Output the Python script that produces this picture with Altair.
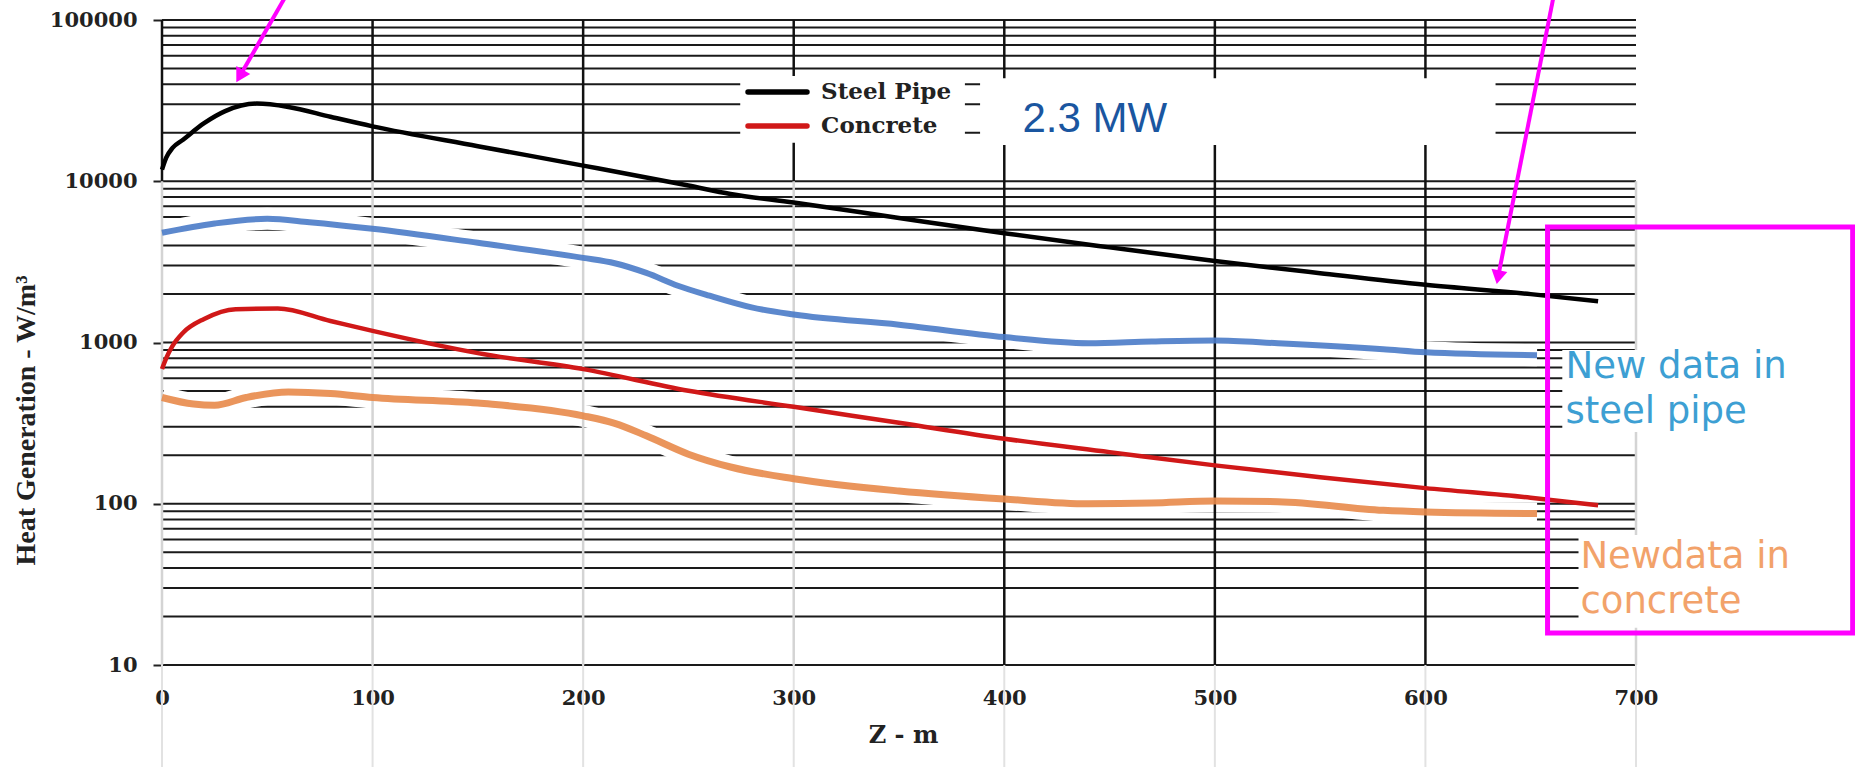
import altair as alt
import pandas as pd

# ---------------- data ----------------
steel_z = [0, 2, 5, 10, 20, 30, 45, 60, 80, 100, 150, 200, 250, 270, 300, 350, 400, 450, 500, 550, 600, 650, 682]
steel_q = [11800, 14000, 16100, 18100, 22900, 27200, 30300, 28900, 25100, 21900, 16500, 12500, 9400, 8340, 7390, 5920, 4760, 3890, 3200, 2690, 2280, 1995, 1800]

concrete_z = [0, 2, 5, 10, 20, 35, 55, 80, 100, 150, 200, 250, 300, 350, 400, 450, 500, 550, 600, 650, 682]
concrete_q = [684, 800, 953, 1150, 1400, 1610, 1625, 1360, 1180, 859, 684, 502, 399, 318, 253, 209, 173, 146, 125, 109, 98]

new_steel_z = [0, 25, 50, 70, 100, 150, 200, 215, 230, 245, 260, 280, 300, 350, 400, 440, 470, 500, 530, 580, 600, 653]
new_steel_q = [4790, 5470, 5850, 5570, 5070, 4150, 3350, 3100, 2700, 2250, 1950, 1650, 1490, 1290, 1080, 990, 1015, 1030, 990, 909, 870, 835]

new_conc_z = [0, 15, 25, 40, 60, 80, 100, 150, 200, 215, 230, 250, 270, 300, 350, 400, 440, 470, 500, 530, 580, 600, 653]
new_conc_q = [456, 415, 408, 456, 494, 483, 456, 421, 351, 315, 264, 203, 169, 143, 120, 107, 100, 101, 104, 103, 91, 89, 87]

series_names = ["Steel Pipe", "Concrete"]
series_colors = ["#000000", "#d01818"]

y_tick_values = [10, 100, 1000, 10000, 100000]
x_tick_values = [0, 100, 200, 300, 400, 500, 600, 700]

# horizontal grid (log minor grid)
hgrid_q = [10, 20, 30, 40, 50, 60, 70, 80, 90,
           100, 200, 300, 400, 500, 600, 700, 800, 900,
           1000, 2000, 3000, 4000, 5000, 6000, 7000, 8000, 9000,
           10000, 20000, 30000, 40000, 50000, 60000, 70000, 80000, 90000, 100000]

# vertical grid segments: upper panel (10000..100000)
vtop_z = [0, 100, 200, 300, 400, 500, 600]
# lower panel (10..10000) and faint extensions below the axis
vlow_z = [0, 100, 200, 300, 400, 500, 600, 700]
vlow_col = ["#d4d4d4", "#d4d4d4", "#d4d4d4", "#d4d4d4", "#111111", "#111111", "#111111", "#d4d4d4"]
vext_z = [0, 100, 200, 300, 400, 500, 600, 700]

# legend (drawn in the plot, as in the original figure)
legend_z, legend_z2 = [278.3, 278.3], [306.3, 306.3]
legend_q = [35800, 22000]
legend_text_z = [313.0, 313.0]

# white patches behind legend / "2.3 MW"
wbox_z, wbox_z2 = [274.6, 388.5], [381.3, 633.3]
wbox_q, wbox_q2 = [17300, 16800], [45000, 43500]

mw_text, mw_z, mw_q = ["2.3 MW"], [408.6], [20200]

side_text = ["New data in", "steel pipe", "Newdata in", "concrete"]
side_z = [666.5, 666.5, 673.6, 673.6]
side_q = [603, 317, 40.0, 21.0]
side_col = ["#3d9fd3", "#3d9fd3", "#f2a26a", "#f2a26a"]
side_bg_z, side_bg_z2 = [665, 672.7], [702, 702]
side_bg_q, side_bg_q2 = [279, 17], [897, 64]

mag_z, mag_z2 = [658.0], [802.9]
mag_q, mag_q2 = [15.8], [5200]

arrow_z, arrow_q = [60, 661], [150000, 143000]
arrow_z2, arrow_q2 = [37.5, 634.7], [46200, 2625]
arrow_angle = [209.7, 191]

# ---------------- frames ----------------
lines_df = pd.DataFrame({
    "z": steel_z + concrete_z,
    "q": steel_q + concrete_q,
    "series": [series_names[0]] * len(steel_z) + [series_names[1]] * len(concrete_z),
})
ns_df = pd.DataFrame({"z": new_steel_z, "q": new_steel_q})
nc_df = pd.DataFrame({"z": new_conc_z, "q": new_conc_q})
hgrid_df = pd.DataFrame({"q": hgrid_q, "z": [0] * len(hgrid_q), "z2": [700] * len(hgrid_q)})
vtop_df = pd.DataFrame({"z": vtop_z, "q": [100000] * len(vtop_z), "q2": [10000] * len(vtop_z)})
vlow_df = pd.DataFrame({"z": vlow_z, "q": [10000] * len(vlow_z), "q2": [10] * len(vlow_z), "c": vlow_col})
vext_df = pd.DataFrame({"z": vext_z, "q": [10] * len(vext_z), "q2": [2.3] * len(vext_z)})
wbox_df = pd.DataFrame({"z": wbox_z, "z2": wbox_z2, "q": wbox_q, "q2": wbox_q2})
leg_df = pd.DataFrame({"z": legend_z, "z2": legend_z2, "q": legend_q, "series": series_names,
                       "tz": legend_text_z})
mw_df = pd.DataFrame({"z": mw_z, "q": mw_q, "t": mw_text})
side_df = pd.DataFrame({"z": side_z, "q": side_q, "t": side_text, "c": side_col})
side_bg_df = pd.DataFrame({"z": side_bg_z, "z2": side_bg_z2, "q": side_bg_q, "q2": side_bg_q2})
mag_df = pd.DataFrame({"z": mag_z, "z2": mag_z2, "q": mag_q, "q2": mag_q2})
arrow_df = pd.DataFrame({"z": arrow_z, "q": arrow_q, "z2": arrow_z2, "q2": arrow_q2, "a": arrow_angle})

# ---------------- scales / axes ----------------
xs = alt.Scale(domain=[0, 700], nice=False, zero=False)
ys = alt.Scale(type="log", domain=[10, 100000], nice=False)
cs = alt.Scale(domain=series_names, range=series_colors)

x_axis = alt.Axis(values=x_tick_values, format="d", grid=False, domain=False, ticks=False,
                  labelFlush=False, labelFont="DejaVu Serif", labelFontWeight="bold",
                  labelFontSize=21, labelColor="#222222", labelPadding=22,
                  title="Z - m", titleFont="DejaVu Serif", titleFontWeight="bold",
                  titleFontSize=24, titleColor="#222222", titleX=741, titleY=70,
                  titleBaseline="middle", titleAlign="center")
y_axis = alt.Axis(values=y_tick_values, format="d", grid=False, domain=False, ticks=True,
                  tickSize=9, tickWidth=2, tickColor="#222222",
                  labelFont="DejaVu Serif", labelFontWeight="bold", labelFontSize=21,
                  labelColor="#222222", labelPadding=16,
                  title="Heat Generation - W/m³", titleFont="Liberation Serif",
                  titleFontWeight="bold", titleFontSize=28, titleColor="#222222",
                  titleAngle=270, titleX=-136, titleY=400, titleAlign="center",
                  titleBaseline="middle")


def X(field="z"):
    return alt.X(f"{field}:Q", scale=xs, axis=x_axis)


def Y(field="q"):
    return alt.Y(f"{field}:Q", scale=ys, axis=y_axis)


hgrid = alt.Chart(hgrid_df).mark_rule(color="#1a1a1a", strokeWidth=2).encode(
    x=X(), x2="z2:Q", y=Y())

vtop = alt.Chart(vtop_df).mark_rule(color="#111111", strokeWidth=2.5).encode(
    x=X(), y=Y(), y2="q2:Q")

white_box = alt.Chart(wbox_df).mark_rect(color="white").encode(
    x=X(), x2="z2:Q", y=Y(), y2="q2:Q")

ns_halo = alt.Chart(ns_df).mark_line(color="white", strokeWidth=22, interpolate="monotone").encode(x=X(), y=Y())
nc_halo = alt.Chart(nc_df).mark_line(color="white", strokeWidth=22, interpolate="monotone").encode(x=X(), y=Y())

vlow = alt.Chart(vlow_df).mark_rule(strokeWidth=2.5).encode(
    x=X(), y=Y(), y2="q2:Q", color=alt.Color("c:N", scale=None))

vext = alt.Chart(vext_df).mark_rule(color="#e2e2e2", strokeWidth=2).encode(
    x=X(), y=Y(), y2="q2:Q")

ns_line = alt.Chart(ns_df).mark_line(color="#4a7bc8", strokeWidth=6, opacity=0.9,
                                     interpolate="monotone").encode(x=X(), y=Y())
nc_line = alt.Chart(nc_df).mark_line(color="#e8894a", strokeWidth=7, opacity=0.9,
                                     interpolate="monotone").encode(x=X(), y=Y())

main_lines = alt.Chart(lines_df).mark_line(strokeWidth=4.5, interpolate="monotone").encode(
    x=X(), y=Y(),
    color=alt.Color("series:N", scale=cs, legend=None),
)

leg_lines = alt.Chart(leg_df).mark_rule(strokeWidth=5.5, strokeCap="round").encode(
    x=X(), x2="z2:Q", y=Y(), color=alt.Color("series:N", scale=cs, legend=None))
leg_text = alt.Chart(leg_df).mark_text(align="left", baseline="middle", font="DejaVu Serif",
                                       fontWeight="bold", fontSize=23, color="#222222").encode(
    x=X("tz"), y=Y(), text="series:N")

mw = alt.Chart(mw_df).mark_text(align="left", baseline="alphabetic", font="Liberation Sans",
                                fontSize=42, color="#1a56a0").encode(x=X(), y=Y(), text="t:N")

side_bg = alt.Chart(side_bg_df).mark_rect(color="white").encode(
    x=X(), x2="z2:Q", y=Y(), y2="q2:Q")

side = alt.Chart(side_df).mark_text(align="left", baseline="alphabetic", font="DejaVu Sans",
                                    fontSize=37).encode(
    x=X(), y=Y(), text="t:N", color=alt.Color("c:N", scale=None))

mag = alt.Chart(mag_df).mark_rect(fillOpacity=0, stroke="#ff00ff", strokeWidth=5).encode(
    x=X(), x2="z2:Q", y=Y(), y2="q2:Q")

arrows = alt.Chart(arrow_df).mark_rule(color="#ff00ff", strokeWidth=4).encode(
    x=X(), y=Y(), x2="z2:Q", y2="q2:Q")
heads = alt.Chart(arrow_df).mark_point(shape="triangle", filled=True, color="#ff00ff",
                                       size=260, opacity=1).encode(
    x=X("z2"), y=Y("q2"), angle=alt.Angle("a:Q", scale=None))

chart = alt.layer(
    hgrid, vtop, white_box, ns_halo, nc_halo, vlow, vext, ns_line, nc_line, main_lines,
    leg_lines, leg_text, mw, side_bg, side, mag, arrows, heads
).properties(
    width=1474, height=645,
    autosize=alt.AutoSizeParams(type="none"),
    padding={"left": 162, "top": 20, "right": 219, "bottom": 102},
    background="white",
).configure_view(stroke=None)

chart.save("out.html", embed_options={"renderer": "svg", "actions": False})
